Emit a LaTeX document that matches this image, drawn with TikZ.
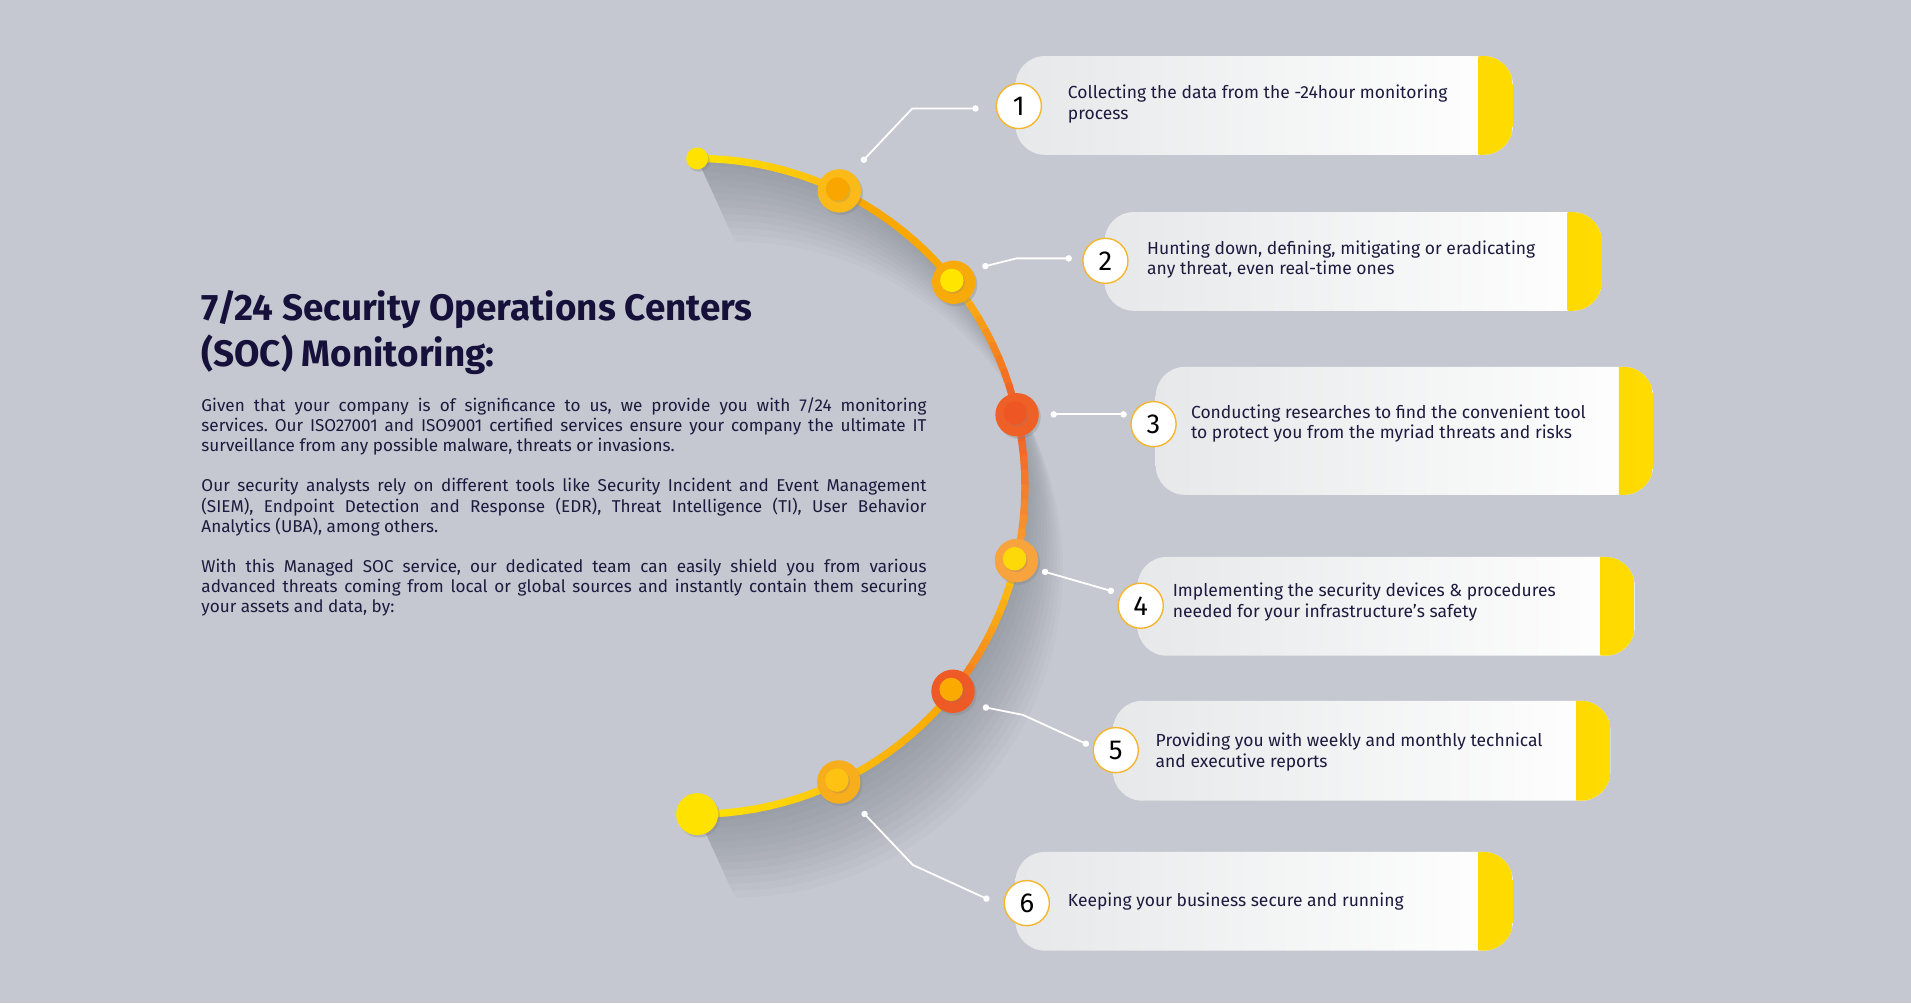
\documentclass[tikz,border=0pt]{standalone}
\usepackage{fontspec}
\setmainfont{Fira Sans}
\usetikzlibrary{arrows.meta,shadows}
\newlength\unitpx
\setlength\unitpx{0.25mm}
\setlength\parindent{0pt}
\hyphenpenalty=10000
\frenchspacing
\definecolor{bgc}{HTML}{C5C8D0}
\definecolor{shadowc}{HTML}{5F6670}
\definecolor{boxl}{HTML}{E6E8E9}
\definecolor{stripa}{HTML}{F7A91B}
\definecolor{stripb}{HTML}{FFDC00}
\definecolor{ringc}{HTML}{F6B52A}
\definecolor{textc}{HTML}{1C1A3E}
\definecolor{titlec}{HTML}{15113B}
\definecolor{arcY}{HTML}{FFE200}
\definecolor{arcYa}{HTML}{FCBC0F}
\definecolor{arcYb}{HTML}{FDC70F}
\definecolor{arcO}{HTML}{F9A800}
\definecolor{arcO2}{HTML}{F8A030}
\definecolor{arcR}{HTML}{F05A28}
\definecolor{arcR2}{HTML}{F47C20}
\definecolor{dao}{HTML}{FBBA17}\definecolor{dai}{HTML}{F9A700}
\definecolor{dbo}{HTML}{F9AA0B}\definecolor{dbi}{HTML}{FFE500}
\definecolor{dco}{HTML}{EF6027}\definecolor{dci}{HTML}{EE5724}
\definecolor{ddo}{HTML}{F8A43E}\definecolor{ddi}{HTML}{FDD90A}
\definecolor{deo}{HTML}{ED5A25}\definecolor{dei}{HTML}{FBAA02}
\definecolor{dfo}{HTML}{F8AD1C}\definecolor{dfi}{HTML}{FDC212}
\begin{document}
\begin{tikzpicture}[x=0.25mm, y=-0.25mm,
  box/.style={rectangle, anchor=west, rounded corners=6mm, minimum width=408\unitpx,
    left color=boxl, right color=white,
    path picture={\shade[sharp corners, left color=stripa, right color=stripb]
      ([xshift=-28\unitpx]path picture bounding box.north east) rectangle (path picture bounding box.south east);}},
  numc/.style={circle, draw=ringc, line width=0.8pt, fill=white, minimum size=37\unitpx, inner sep=0,
    font=\fontsize{16}{16}\selectfont, text=black},
  itemtext/.style={anchor=west, align=left, inner sep=0, text=textc, font=\fontsize{10.2}{12}\selectfont},
  ring/.style={circle, minimum size=35.6\unitpx, inner sep=0,
    drop shadow={opacity=.3, shadow xshift=.4mm, shadow yshift=-.5mm}},
  core/.style={circle, minimum size=19.2\unitpx, inner sep=0,
    drop shadow={opacity=.25, shadow xshift=.3mm, shadow yshift=-.35mm}},
  endpt/.style={circle, fill=arcY, inner sep=0,
    drop shadow={opacity=.3, shadow xshift=.4mm, shadow yshift=-.5mm}},
  arcline/.style={line width=6\unitpx, line cap=round},
  wire/.style={white, line width=1.05pt, {Circle[length=1.3mm]}-{Circle[length=1.3mm]}}]
\fill[bgc] (0,0) rectangle (1568,823);
\useasboundingbox (0,0) rectangle (1568,823);
\coordinate (C) at (572,399);
% shadow of the arc
\foreach \k in {1,...,12}
  \fill[shadowc, opacity=.04] plot[domain=-90:90, samples=73] ({572+269*cos(\x)},{399+269*sin(\x)})
    -- plot[domain=90:-90, samples=73] ({572+\k*2.6+269*cos(\x)},{399+\k*5.7+269*sin(\x)}) -- cycle;
% the arc
\foreach \a/\b/\ca/\cb in {-90/-64.3/arcY/arcYa, -64.3/-38.5/arcO/arcO, -38.5/-12.6/arcYa/arcR,
    -12.6/13.1/arcR/arcO2, 13.1/38.7/arcYb/arcR2, 38.7/64.4/arcO/arcYa, 64.4/90/arcYb/arcY}
  \foreach \t in {0,...,9}{
    \pgfmathtruncatemacro\p{\t*11}
    \draw[arcline, color=\cb!\p!\ca] ([shift={({\a+(\b-(\a))*\t/10}:269)}]C)
      -- ([shift={({\a+(\b-(\a))*(\t+1)/10}:269)}]C);
  }
\node[endpt, minimum size=18\unitpx] (arctop) at ([shift={(-90:269)}]C) {};
\node[endpt, minimum size=34.4\unitpx] (arcbot) at ([shift={(90:269)}]C) {};
\node[ring, fill=dao] (d1) at ([shift={(-64.3:269)}]C) {};
\node[core, fill=dai] (d1c) at ([shift={(-1.5,-1.5)}]d1) {};
\node[ring, fill=dbo] (d2) at ([shift={(-38.5:269)}]C) {};
\node[core, fill=dbi] (d2c) at ([shift={(-1.5,-1.5)}]d2) {};
\node[ring, fill=dco] (d3) at ([shift={(-12.6:269)}]C) {};
\node[core, fill=dci] (d3c) at ([shift={(-1.5,-1.5)}]d3) {};
\node[ring, fill=ddo] (d4) at ([shift={(13.1:269)}]C) {};
\node[core, fill=ddi] (d4c) at ([shift={(-1.5,-1.5)}]d4) {};
\node[ring, fill=deo] (d5) at ([shift={(38.7:269)}]C) {};
\node[core, fill=dei] (d5c) at ([shift={(-1.5,-1.5)}]d5) {};
\node[ring, fill=dfo] (d6) at ([shift={(64.4:269)}]C) {};
\node[core, fill=dfi] (d6c) at ([shift={(-1.5,-1.5)}]d6) {};
% left text
\node[anchor=north west, align=left, inner sep=0, text=titlec,
  font=\fontsize{21.5}{26.9}\selectfont\bfseries] (title) at (165,238)
  {7/24 Security Operations Centers\\(SOC) Monitoring:};
\node[anchor=north west, text width=595\unitpx, align=justify, inner sep=0, text=textc,
  font=\fontsize{10}{11.74}\selectfont] (body) at (165,326)
  {Given that your company is of significance to us, we provide you with 7/24 monitoring\linebreak
  services. Our ISO27001 and ISO9001 certified services ensure your company the ultimate IT\linebreak
  surveillance from any possible malware, threats or invasions.\par\vspace{11.74pt}
  Our security analysts rely on different tools like Security Incident and Event Management\linebreak
  (SIEM), Endpoint Detection and Response (EDR), Threat Intelligence (TI), User Behavior\linebreak
  Analytics (UBA), among others.\par\vspace{11.74pt}
  With this Managed SOC service, our dedicated team can easily shield you from various\linebreak
  advanced threats coming from local or global sources and instantly contain them securing\linebreak
  your assets and data, by:};
% items
\node[box, minimum height=81\unitpx] (b1) at (833,86.5) {};
\node[numc] (n1) at (836,87) {1};
\node[itemtext] (t1) at (876,85.5) {Collecting the data from the -24hour monitoring\\process};
\node[box, minimum height=81\unitpx] (b2) at (906,214.5) {};
\node[numc] (n2) at (907,214) {2};
\node[itemtext] (t2) at (941,213) {Hunting down, defining, mitigating or eradicating\\any threat, even real-time ones};
\node[box, minimum height=105\unitpx] (b3) at (948,353.5) {};
\node[numc] (n3) at (946.5,348) {3};
\node[itemtext] (t3) at (977,347.5) {Conducting researches to find the convenient tool\\to protect you from the myriad threats and risks};
\node[box, minimum height=81\unitpx] (b4) at (933,497.5) {};
\node[numc] (n4) at (936,497) {4};
\node[itemtext] (t4) at (962,494) {Implementing the security devices \& procedures\\needed for your infrastructure’s safety};
\node[box, minimum height=82\unitpx] (b5) at (913,616) {};
\node[numc] (n5) at (915.5,615.5) {5};
\node[itemtext] (t5) at (948,617) {Providing you with weekly and monthly technical\\and executive reports};
\node[box, minimum height=81\unitpx] (b6) at (833,739.5) {};
\node[numc] (n6) at (842.5,741) {6};
\node[itemtext] (t6) at (876,740) {Keeping your business secure and running};
% connectors
\coordinate (s1) at (707,133); \coordinate (k1) at (748.5,89); \coordinate (e1) at (803,89);
\coordinate (s2) at (806,219); \coordinate (k2) at (834,212); \coordinate (e2) at (879.5,212);
\coordinate (s3) at (862,340); \coordinate (e3) at (924.5,340);
\coordinate (s4) at (855,468.5); \coordinate (e4) at (914,485.5);
\coordinate (s5) at (806.4,580); \coordinate (k5) at (839.4,586.6); \coordinate (e5) at (893.3,611.3);
\coordinate (s6) at (707.6,666); \coordinate (k6) at (749,709.7); \coordinate (e6) at (811.7,738.4);
\draw[wire] (s1) -- (k1) -- (e1);
\draw[wire] (s2) -- (k2) -- (e2);
\draw[wire] (s3) -- (e3);
\draw[wire] (s4) -- (e4);
\draw[wire] (s5) -- (k5) -- (e5);
\draw[wire] (s6) -- (k6) -- (e6);
\end{tikzpicture}
\end{document}
